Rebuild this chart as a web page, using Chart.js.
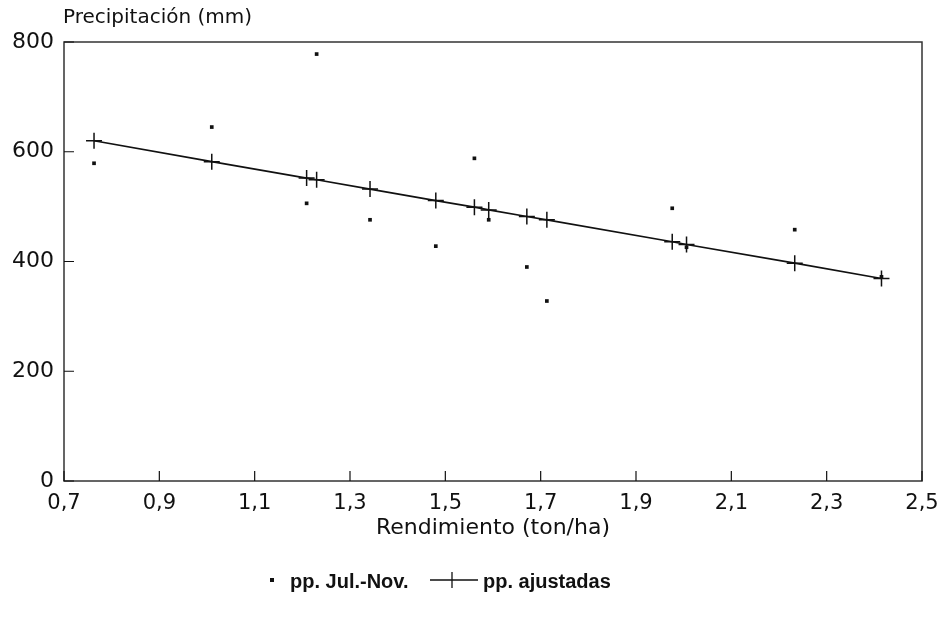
<!DOCTYPE html>
<html>
<head>
<meta charset="utf-8">
<script src="https://cdn.jsdelivr.net/npm/chart.js@4.4.1/dist/chart.umd.min.js"></script>
<style>
  html, body { margin: 0; background: #fff; }
  #wrap { width: 950px; height: 622px; }
</style>
</head>
<body>
<div id="wrap"><canvas id="chart" width="950" height="622"></canvas></div>
<script>
// values
const rendimiento = [0.763, 1.010, 1.209, 1.230, 1.342, 1.480, 1.561, 1.591, 1.671, 1.713, 1.976, 2.006, 2.233, 2.415];
const ppJulNov    = [579, 645, 506, 778, 476, 428, 588, 476, 390, 328, 497, 426, 458, 372];
const ppAjustadas = [620, 582, 552, 549, 532, 511, 499, 494, 482, 476, 436, 431, 397, 369];

const xTickValues = [0.7, 0.9, 1.1, 1.3, 1.5, 1.7, 1.9, 2.1, 2.3, 2.5];
const yTickValues = [0, 200, 400, 600, 800];

const INK = '#111';
const WIDE = "'DejaVu Sans', Arial, sans-serif";
const SANS = "'Liberation Sans', Arial, sans-serif";

// box + inside tick marks + y title + legend
const decorations = {
    id: 'decorations',
    afterDraw(chart) {
        const { ctx, chartArea: a, scales } = chart;
        ctx.save();
        ctx.strokeStyle = '#333';
        ctx.lineWidth = 1.5;
        ctx.strokeRect(a.left, a.top, a.right - a.left, a.bottom - a.top);

        ctx.strokeStyle = INK;
        ctx.lineWidth = 1.2;
        ctx.beginPath();
        xTickValues.forEach(v => {
            const px = scales.x.getPixelForValue(v);
            ctx.moveTo(px, a.bottom);
            ctx.lineTo(px, a.bottom - 10);
        });
        yTickValues.forEach(v => {
            const py = scales.y.getPixelForValue(v);
            ctx.moveTo(a.left, py);
            ctx.lineTo(a.left + 10, py);
        });
        ctx.stroke();

        ctx.fillStyle = INK;
        ctx.textBaseline = 'alphabetic';
        ctx.textAlign = 'left';
        ctx.font = '20px ' + WIDE;
        ctx.fillText('Precipitación (mm)', a.left - 1, 23);

        // legend
        const ly = 580;
        ctx.font = 'bold 20px ' + SANS;
        ctx.fillRect(270, ly - 2, 4, 4);
        ctx.fillText('pp. Jul.-Nov.', 290, ly + 8);
        ctx.lineWidth = 1.3;
        ctx.beginPath();
        ctx.moveTo(430, ly);
        ctx.lineTo(478, ly);
        ctx.moveTo(452, ly - 8);
        ctx.lineTo(452, ly + 8);
        ctx.stroke();
        ctx.fillText('pp. ajustadas', 483, ly + 8);
        ctx.restore();
    }
};

new Chart(document.getElementById('chart'), {
    type: 'scatter',
    data: {
        datasets: [
            {
                label: 'pp. Jul.-Nov.',
                data: rendimiento.map((x, i) => ({ x: x, y: ppJulNov[i] })),
                pointStyle: 'rect',
                pointRadius: 2.6,
                backgroundColor: INK,
                borderColor: INK,
                borderWidth: 0
            },
            {
                label: 'pp. ajustadas',
                data: rendimiento.map((x, i) => ({ x: x, y: ppAjustadas[i] })),
                showLine: true,
                borderColor: INK,
                borderWidth: 1.7,
                pointStyle: 'cross',
                pointRadius: 8,
                pointBorderWidth: 1.5,
                pointBorderColor: INK,
                backgroundColor: INK
            }
        ]
    },
    plugins: [decorations],
    options: {
        responsive: false,
        animation: false,
        layout: { padding: { left: 0, right: 28, top: 42, bottom: 81 } },
        plugins: { legend: { display: false }, tooltip: { enabled: false } },
        scales: {
            x: {
                type: 'linear',
                min: 0.7,
                max: 2.5,
                afterBuildTicks: s => { s.ticks = xTickValues.map(v => ({ value: v })); },
                afterFit: s => { s.height = 60; },
                grid: { display: false, drawTicks: false },
                border: { display: false },
                ticks: {
                    padding: 10,
                    color: INK,
                    font: { family: WIDE, size: 21 },
                    callback: v => v.toFixed(1).replace('.', ',')
                },
                title: {
                    display: true,
                    text: 'Rendimiento (ton/ha)',
                    color: INK,
                    font: { family: WIDE, size: 22 },
                    padding: { top: 0, bottom: 0 }
                }
            },
            y: {
                min: 0,
                max: 800,
                afterBuildTicks: s => { s.ticks = yTickValues.map(v => ({ value: v })); },
                afterFit: s => { s.width = 64; },
                grid: { display: false, drawTicks: false },
                border: { display: false },
                ticks: {
                    padding: 10,
                    color: INK,
                    font: { family: WIDE, size: 22 }
                }
            }
        }
    }
});
</script>
</body>
</html>
